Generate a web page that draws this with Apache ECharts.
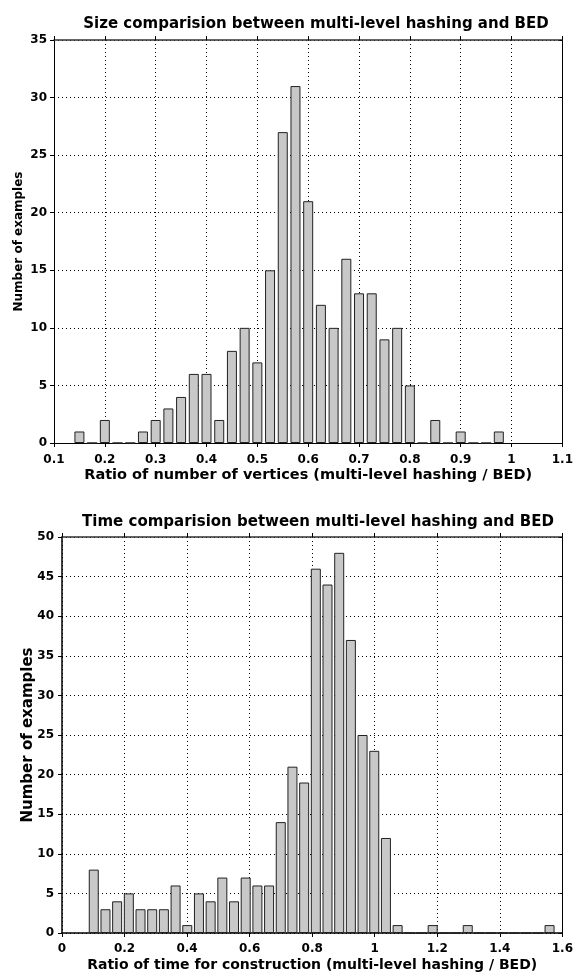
<!DOCTYPE html>
<html>
<head>
    <meta charset="utf-8">
    <title>multi-level hashing vs BED</title>
    <style>
        html, body { margin: 0; padding: 0; background: #fff; }
        #container { width: 576px; height: 975px; }
    </style>
</head>
<body>
<div id="container"></div>
<script type="text/javascript" src="https://cdn.jsdelivr.net/npm/echarts@6/dist/echarts.min.js"></script>
<script type="text/javascript">
    // size histogram: bin centres 0.15 .. 0.975, step 0.025
    var sizeStart = 0.15;
    var sizeStep = 0.025;
    var sizeCounts = [1, 0, 2, 0, 0, 1, 2, 3, 4, 6, 6, 2, 8, 10, 7, 15, 27, 31, 21,
        12, 10, 16, 13, 13, 9, 10, 5, 0, 2, 0, 1, 0, 0, 1];

    // time histogram: 40 bins from ~0.10 to ~1.56
    var timeStart = 0.1016;
    var timeStep = 0.03737;
    var timeCounts = [8, 3, 4, 5, 3, 3, 3, 6, 1, 5, 4, 7, 4, 7, 6, 6, 14, 21, 19, 46,
        44, 48, 37, 25, 23, 12, 1, 0, 0, 1, 0, 0, 1, 0, 0, 0, 0, 0, 0, 1];

    var titles = ['Size comparision between multi-level hashing and BED',
        'Time comparision between multi-level hashing and BED'];
    var xNames = ['Ratio of number of vertices (multi-level hashing / BED)',
        'Ratio of time for construction (multi-level hashing / BED)'];
    var yName = 'Number of examples';

    function pairs(start, step, counts) {
        var out = [];
        for (var i = 0; i < counts.length; i++) {
            out.push([+(start + i * step).toFixed(4), counts[i]]);
        }
        return out;
    }

    var font = 'DejaVu Sans, Liberation Sans, sans-serif';
    var dotted = {show: true, lineStyle: {color: '#000', type: [1, 3], width: 1}};

    function bottomX(idx, min, max, interval, name, nameSize, lineW, margin) {
        return {
            gridIndex: idx, type: 'value', min: min, max: max, interval: interval,
            position: 'bottom',
            name: name, nameLocation: 'middle', nameGap: 25, nameMoveOverlap: false,
            nameTextStyle: {fontFamily: font, fontWeight: 'bold', fontSize: nameSize, color: '#000'},
            axisLine: {show: true, onZero: false, lineStyle: {color: '#000', width: lineW}},
            axisTick: {show: true, length: 4, lineStyle: {color: '#000'}},
            axisLabel: {margin: margin, fontFamily: font, fontWeight: 'bold', fontSize: 12, color: '#000'},
            splitLine: dotted
        };
    }

    function topX(idx, min, max, interval) {
        return {
            gridIndex: idx, type: 'value', min: min, max: max, interval: interval,
            position: 'top',
            axisLine: {show: true, onZero: false, lineStyle: {color: '#333', width: 1.5}},
            axisTick: {show: true, length: 4, lineStyle: {color: '#000'}},
            axisLabel: {show: false},
            splitLine: {show: false}
        };
    }

    function leftY(idx, max, lineW, margin, nameSize, nameGap) {
        return {
            gridIndex: idx, type: 'value', min: 0, max: max, interval: 5,
            position: 'left',
            name: yName, nameLocation: 'middle', nameGap: nameGap, nameRotate: 90,
            nameMoveOverlap: false,
            nameTextStyle: {fontFamily: font, fontWeight: 'bold', fontSize: nameSize, color: '#000'},
            axisLine: {show: true, onZero: false, lineStyle: {color: '#000', width: lineW}},
            axisTick: {show: true, length: 4, lineStyle: {color: '#000'}},
            axisLabel: {margin: margin, fontFamily: font, fontWeight: 'bold', fontSize: 12, color: '#000'},
            splitLine: dotted
        };
    }

    function rightY(idx, max) {
        return {
            gridIndex: idx, type: 'value', min: 0, max: max, interval: 5,
            position: 'right',
            axisLine: {show: true, onZero: false, lineStyle: {color: '#000', width: 1}},
            axisTick: {show: true, inside: true, length: 3, lineStyle: {color: '#000'}},
            axisLabel: {show: false},
            splitLine: {show: false}
        };
    }

    function barSeries(xi, yi, data) {
        return {
            type: 'bar', xAxisIndex: xi, yAxisIndex: yi,
            data: data, barWidth: 10, barGap: '-100%',
            itemStyle: {color: '#c8c8c8', borderColor: '#222', borderWidth: 1},
            silent: true, animation: false
        };
    }

    var myChart = echarts.init(document.getElementById('container'));

    var option = {
        animation: false,
        title: [
            {text: titles[0], left: 311, top: 12, textAlign: 'center',
                textStyle: {fontFamily: font, fontWeight: 'bold', fontSize: 15, color: '#000'}},
            {text: titles[1], left: 313, top: 510, textAlign: 'center',
                textStyle: {fontFamily: font, fontWeight: 'bold', fontSize: 15, color: '#000'}}
        ],
        grid: [
            {left: 54, right: 10, top: 40, height: 403},
            {left: 62, right: 10, top: 537, height: 396}
        ],
        xAxis: [
            bottomX(0, 0.1, 1.1, 0.1, xNames[0], 14.5, 1, 11),
            topX(0, 0.1, 1.1, 0.1),
            bottomX(1, 0, 1.6, 0.2, xNames[1], 14, 1.5, 10),
            topX(1, 0, 1.6, 0.2)
        ],
        yAxis: [
            leftY(0, 35, 1, 7, 12, 29),
            rightY(0, 35),
            leftY(1, 50, 1.5, 8, 15, 26),
            rightY(1, 50)
        ],
        series: [
            barSeries(0, 0, pairs(sizeStart, sizeStep, sizeCounts)),
            barSeries(2, 2, pairs(timeStart, timeStep, timeCounts))
        ]
    };

    myChart.setOption(option, true);
</script>
</body>
</html>
